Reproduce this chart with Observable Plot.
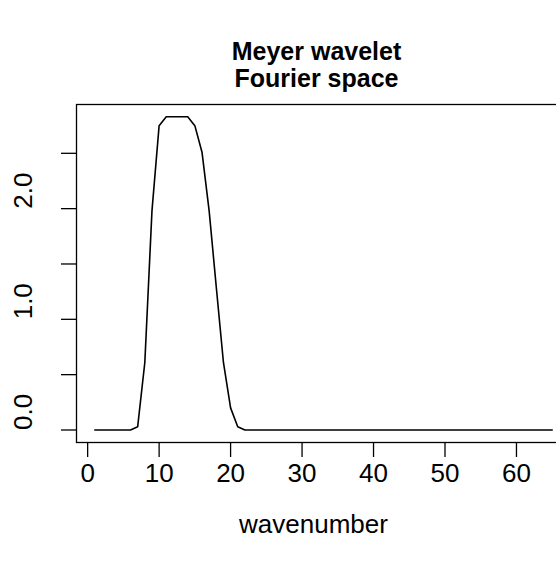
<!DOCTYPE html>
<html><head><meta charset="utf-8">
<script src="https://cdn.jsdelivr.net/npm/d3@7"></script>
<script src="https://cdn.jsdelivr.net/npm/@observablehq/plot@0.6"></script>
<style>
html,body{margin:0;padding:0;background:#fff;overflow:hidden;width:556px;height:562px}
#chart{width:556px;height:562px;overflow:hidden}
#chart svg{display:block;max-width:none !important;width:571px !important;height:562px !important}
</style></head><body><div id="chart"></div>
<script>
const wavenumber = [1,2,3,4,5,6,7,8,9,10,11,12,13,14,15,16,17,18,19,20,21,22,23,24,25,26,27,28,29,30,31,32,33,34,35,36,37,38,39,40,41,42,43,44,45,46,47,48,49,50,51,52,53,54,55,56,57,58,59,60,61,62,63,64,65];
const amplitude = [0,0,0,0,0,0,0.03,0.61,1.98,2.75,2.83,2.83,2.83,2.83,2.75,2.51,1.98,1.29,0.61,0.2,0.03,0,0,0,0,0,0,0,0,0,0,0,0,0,0,0,0,0,0,0,0,0,0,0,0,0,0,0,0,0,0,0,0,0,0,0,0,0,0,0,0,0,0,0,0];
const xTicks = [0,10,20,30,40,50,60];
const yTicks = [0,0.5,1,1.5,2,2.5];
const yLabels = [0,1,2];
const titleLine1 = "Meyer wavelet";
const titleLine2 = "Fourier space";
const xLabel = "wavenumber";

const data = wavenumber.map((w,i)=>({w, a: amplitude[i]}));
const font = "'Liberation Sans', Arial, Helvetica, sans-serif";
const chart = Plot.plot({
  width: 571, height: 562,
  marginLeft: 76, marginRight: 1, marginTop: 104, marginBottom: 120,
  style: {fontFamily: font, background: "white", color: "black", maxWidth: "none"},
  x: {domain: [-1.56, 67.56]},
  y: {domain: [-0.113, 2.941]},
  marks: [
    Plot.frame({stroke:"black", strokeWidth:1.3}),
    Plot.axisX({ticks: xTicks, tickSize: 15, tickPadding: 6, fontSize: 26, strokeWidth: 1.3, tickFormat: d=>String(d), label: null}),
    Plot.axisY({ticks: yTicks, tickSize: 15, strokeWidth: 1.3, tickFormat: () => "", label: null}),
    Plot.text(yLabels, {y: d=>d, text: d=>d.toFixed(1), frameAnchor:"left", dx: -53, rotate: -90, fontSize: 26}),
    Plot.lineY(data, {x:"w", y:"a", stroke:"black", strokeWidth:1.6}),
    Plot.text([xLabel], {text: d=>d, frameAnchor:"bottom", dy: 90, dx: -10, fontSize: 26}),
    Plot.text([titleLine1], {text: d=>d, frameAnchor:"top", dy: -62, dx: -7, fontSize: 25, fontWeight: "bold"}),
    Plot.text([titleLine2], {text: d=>d, frameAnchor:"top", dy: -35, dx: -7, fontSize: 25, fontWeight: "bold"})
  ]
});
document.getElementById("chart").appendChild(chart);
</script></body></html>
